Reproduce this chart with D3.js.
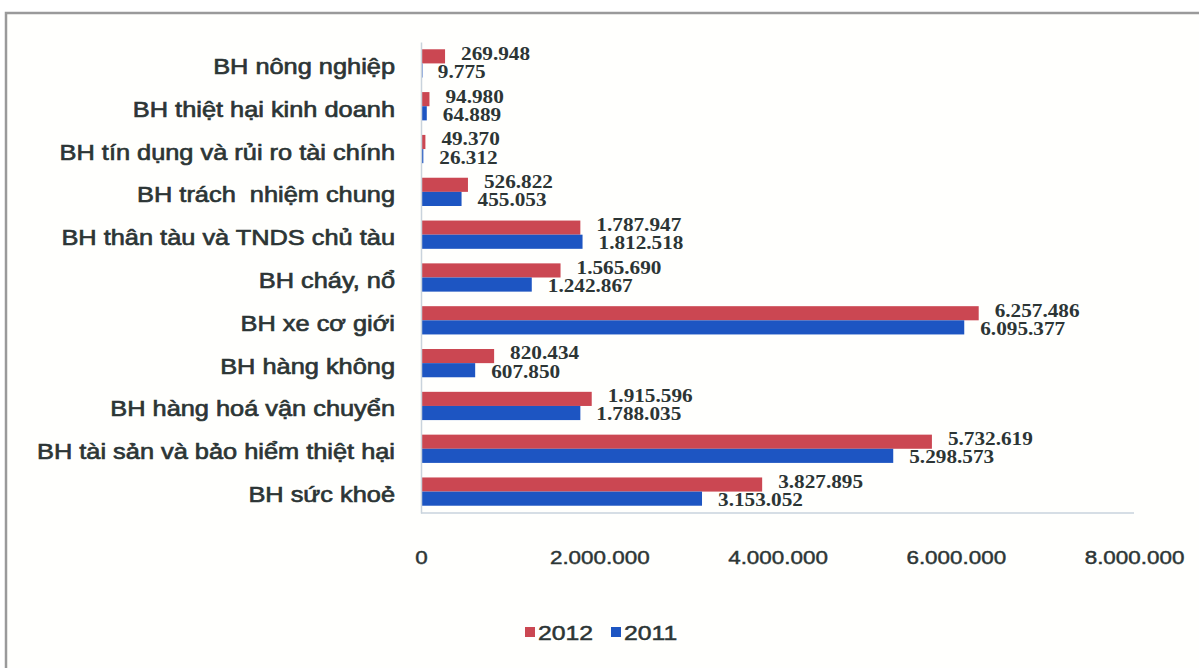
<!DOCTYPE html>
<html>
<head>
<meta charset="utf-8">
<script src="https://cdn.jsdelivr.net/npm/d3@7"></script>
<style>
  html, body { margin: 0; padding: 0; background: #ffffff; }
  svg { display: block; }
  text { white-space: pre; }
</style>
</head>
<body>
<svg id="chart" width="1199" height="668"></svg>
<script>
// Premium revenue by non-life insurance line (million VND), 2012 vs 2011
const categories = [
  "BH nông nghiệp",
  "BH thiệt hại kinh doanh",
  "BH tín dụng và rủi ro tài chính",
  "BH trách  nhiệm chung",
  "BH thân tàu và TNDS chủ tàu",
  "BH cháy, nổ",
  "BH xe cơ giới",
  "BH hàng không",
  "BH hàng hoá vận chuyển",
  "BH tài sản và bảo hiểm thiệt hại",
  "BH sức khoẻ"
];
const seriesNames = ["2012", "2011"];
const values2012 = [269948, 94980, 49370, 526822, 1787947, 1565690, 6257486, 820434, 1915596, 5732619, 3827895];
const values2011 = [9775, 64889, 26312, 455053, 1812518, 1242867, 6095377, 607850, 1788035, 5298573, 3153052];
const tickValues = [0, 2000000, 4000000, 6000000, 8000000];
const tickLabels = ["0", "2.000.000", "4.000.000", "6.000.000", "8.000.000"];

const colors = { "2012": "#cb4752", "2011": "#1d55c2" };
const textColor = "#2c3535";
const sx = 1.18; // horizontal text stretch

const svg = d3.select("#chart");

// outer frame
svg.append("rect")
  .attr("x", 6).attr("y", 13).attr("width", 1220).attr("height", 700)
  .attr("fill", "#fffffd").attr("stroke", "#9a9a9a").attr("stroke-width", 2.5);

const rows = categories.map((c, i) => ({ cat: c, "2012": values2012[i], "2011": values2011[i] }));

const x = d3.scaleLinear().domain([0, 8000000]).range([421, 1134]);
const y = d3.scaleBand().domain(categories).range([42, 513]).paddingInner(0.34).paddingOuter(0.17);
const ys = d3.scaleBand().domain(seriesNames).range([0, y.bandwidth()]);

const vn = d3.formatLocale({ decimal: ",", thousands: ".", grouping: [3], currency: ["", ""] }).format(",d");

// baseline along the value axis
svg.append("line")
  .attr("x1", x(0)).attr("x2", x(8000000))
  .attr("y1", 513).attr("y2", 513)
  .attr("stroke", "#c9d3dc").attr("stroke-width", 1.5);

// bars
const groups = svg.append("g").selectAll("g").data(rows).join("g")
  .attr("transform", d => `translate(0,${y(d.cat)})`);

groups.selectAll("rect").data(d => seriesNames.map(s => ({ s, v: d[s] }))).join("rect")
  .attr("x", x(0))
  .attr("y", d => ys(d.s))
  .attr("width", d => Math.max(1.5, x(d.v) - x(0)))
  .attr("height", ys.bandwidth())
  .attr("fill", d => colors[d.s]);

// value labels
groups.selectAll("text").data(d => seriesNames.map(s => ({ s, v: d[s] }))).join("text")
  .attr("transform", d => `translate(${x(d.v) + 16},${ys(d.s) + ys.bandwidth() / 2 + (d.s === "2012" ? -3 : 1)}) scale(${sx},1)`)
  .attr("dominant-baseline", "central")
  .attr("font-family", "'Liberation Serif', 'Times New Roman', serif")
  .attr("font-weight", "bold")
  .attr("font-size", 18)
  .attr("fill", textColor)
  .text(d => vn(d.v));

// category axis
const yAxis = svg.append("g")
  .attr("transform", `translate(${x(0)},0)`)
  .call(d3.axisLeft(y).tickSize(0).tickPadding(0));
yAxis.select(".domain").attr("stroke", "#c9d3dc").attr("stroke-width", 1.5);
yAxis.selectAll(".tick text")
  .attr("x", -26 / sx)
  .attr("dy", "0.35em")
  .attr("y", 3)
  .attr("transform", `scale(${sx},1)`)
  .attr("font-family", "'Liberation Sans', Arial, sans-serif")
  .attr("font-size", 21.5)
  .attr("fill", textColor)
  .attr("stroke", textColor).attr("stroke-width", 0.65);

// value axis labels
const xAxis = svg.append("g")
  .attr("transform", "translate(0,513)")
  .call(d3.axisBottom(x).tickValues(tickValues).tickFormat((d, i) => tickLabels[i]).tickSize(0).tickPadding(38));
xAxis.select(".domain").remove();
xAxis.selectAll(".tick text")
  .attr("transform", `scale(${sx},1)`)
  .attr("font-family", "'Liberation Sans', Arial, sans-serif")
  .attr("font-size", 19)
  .attr("fill", textColor)
  .attr("stroke", textColor).attr("stroke-width", 0.45);

// legend
const legend = svg.append("g").attr("transform", "translate(525,632)");
const legendItems = legend.selectAll("g").data(seriesNames).join("g")
  .attr("transform", (d, i) => `translate(${i * 86},0)`);
legendItems.append("rect")
  .attr("x", 0).attr("y", -5).attr("width", 10).attr("height", 10)
  .attr("fill", d => colors[d]);
legendItems.append("text")
  .attr("transform", `translate(13,1) scale(${sx},1)`)
  .attr("dominant-baseline", "central")
  .attr("font-family", "'Liberation Sans', Arial, sans-serif")
  .attr("font-size", 21)
  .attr("fill", textColor)
  .attr("stroke", textColor).attr("stroke-width", 0.5)
  .text(d => d);
</script>
</body>
</html>
